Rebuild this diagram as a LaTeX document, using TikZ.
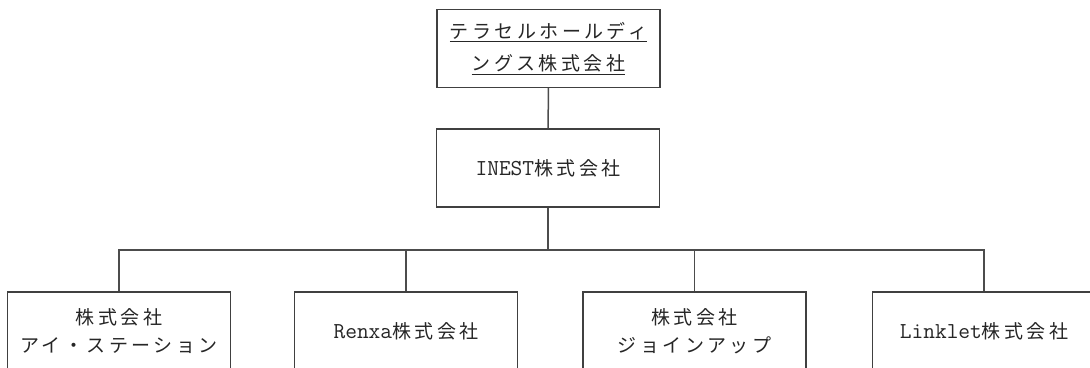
\documentclass[tikz,border=0pt]{standalone}
\usepackage{fontspec}
\setmainfont{Latin Modern Mono}[Scale=1.2]
\newfontfamily\jp{Noto Sans CJK JP}[LetterSpace=18]
\usepackage{tikz}

\tikzset{
	orgbox/.style={draw=black!75, line width=1.1pt, text=black!85, minimum width=223pt, minimum height=78pt, align=center, inner sep=0pt, font=\fontsize{19}{28}\selectfont},
	link/.style={draw=black!70, line width=1.5pt}
}

\begin{document}
\begin{tikzpicture}[x=1pt, y=-1pt]
	\useasboundingbox (0,0) rectangle (1090,367);
	\clip (0,0) rectangle (1090,367);
	\fill[white] (0,0) rectangle (1090,367);

	\node[orgbox, font=\fontsize{19}{32}\selectfont] (hold) at (548.5,48.5) {\underline{\jp テラセルホールディ}\\\underline{\jp ングス株式会社}};
	\node[orgbox] (inest) at (548,168) {INEST{\jp 株式会社}};

	\node[orgbox] (istation) at (119,331) {{\jp 株式会社}\\{\jp アイ・ステーション}};
	\node[orgbox] (renxa) at (406,331) {Renxa{\jp 株式会社}};
	\node[orgbox] (joinup) at (694.5,331) {{\jp 株式会社}\\{\jp ジョインアップ}};
	\node[orgbox] (linklet) at (984,331) {Linklet{\jp 株式会社}};

	\coordinate (bus) at (548,250);
	\draw[link] (hold) -- (inest);
	\draw[link] (inest) -- (bus);
	\foreach \n in {istation, renxa, joinup, linklet}
		\draw[link] (bus) -| (\n.north);
\end{tikzpicture}
\end{document}
